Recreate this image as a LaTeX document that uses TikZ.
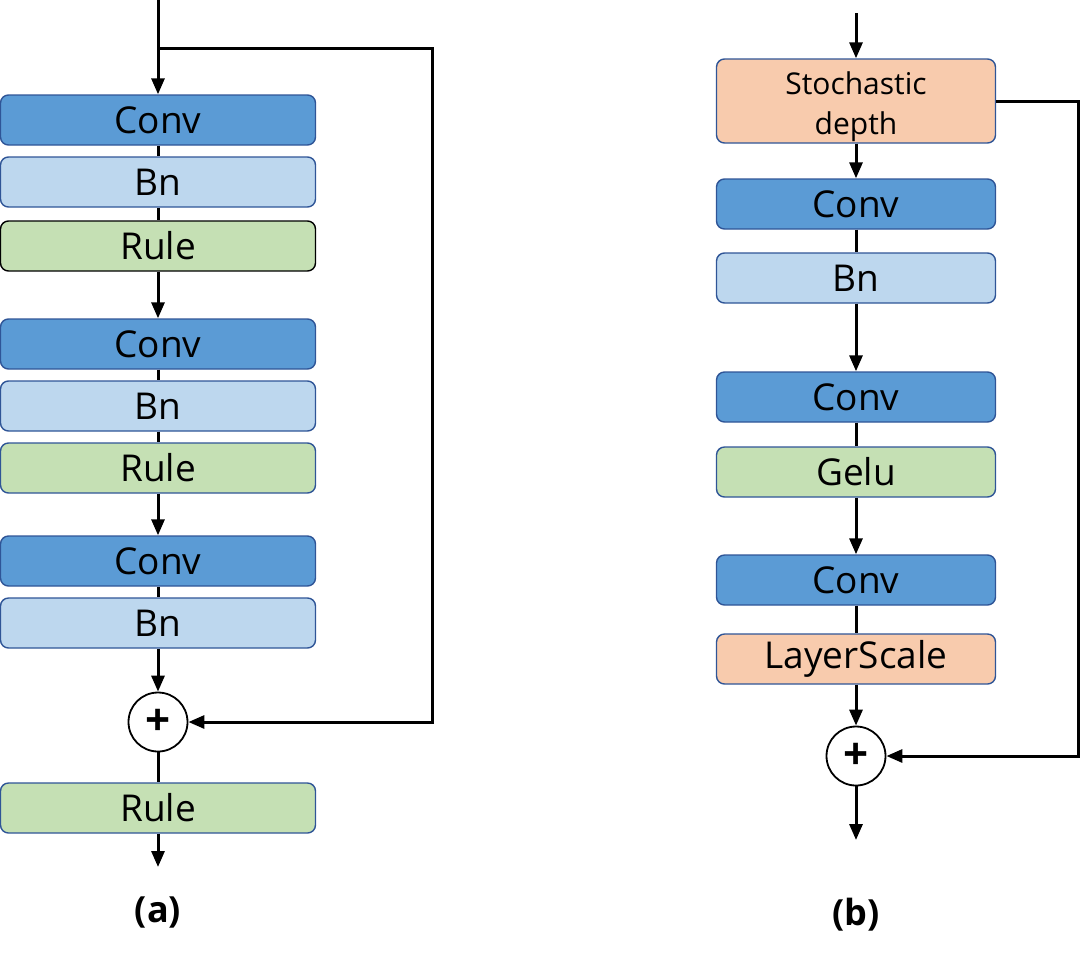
\documentclass[tikz,border=0pt]{standalone}
\usepackage{fontspec}
\setmainfont{Open Sans}
\usetikzlibrary{arrows.meta}
\definecolor{convblue}{RGB}{91,155,213}
\definecolor{bnblue}{RGB}{189,215,238}
\definecolor{rulegreen}{RGB}{197,224,180}
\definecolor{scaleorange}{RGB}{248,203,173}
\definecolor{boxedge}{RGB}{47,85,151}

\begin{document}
\begin{tikzpicture}[x=1pt, y=-1pt, >={Triangle[length=16pt, width=13pt]},
    blk/.style={draw=boxedge, line width=1.4pt, rounded corners=8pt,
        minimum width=315pt, minimum height=50pt, inner sep=0pt,
        font=\fontsize{37}{40}\selectfont},
    blkb/.style={blk, minimum width=279pt},
    conv/.style={fill=convblue},
    bn/.style={fill=bnblue},
    relu/.style={fill=rulegreen},
    scl/.style={fill=scaleorange},
    addnode/.style={circle, draw, line width=1.8pt, minimum size=59pt, inner sep=0pt,
        font=\fontsize{44}{44}\selectfont\bfseries},
    arr/.style={->, line width=3pt},
    lnk/.style={line width=3pt},
    caption/.style={font=\fontsize{36}{36}\selectfont\bfseries}]
    \useasboundingbox (0,0) rectangle (1081,962);

    % --- (a) ---
    \coordinate (ain) at (158,0);
    \node[blk, conv] (ac1) at (158,120) {Conv};
    \node[blk, bn] (ab1) at (158,182) {Bn};
    \node[blk, relu, draw=black] (ar1) at (158,246) {Rule};
    \node[blk, conv] (ac2) at (158,344) {Conv};
    \node[blk, bn] (ab2) at (158,406) {Bn};
    \node[blk, relu] (ar2) at (158,468) {Rule};
    \node[blk, conv] (ac3) at (158,561) {Conv};
    \node[blk, bn] (ab3) at (158,623) {Bn};
    \node[addnode] (aadd) at (158,722) {+};
    \node[blk, relu] (ar3) at (158,808) {Rule};
    \coordinate (aout) at (158,867);
    \node[caption] (alab) at (158,912) {(a)};

    \draw[arr] (ain) -- (ac1);
    \draw[lnk] (ac1) -- (ab1);
    \draw[lnk] (ab1) -- (ar1);
    \draw[arr] (ar1) -- (ac2);
    \draw[lnk] (ac2) -- (ab2);
    \draw[lnk] (ab2) -- (ar2);
    \draw[arr] (ar2) -- (ac3);
    \draw[lnk] (ac3) -- (ab3);
    \draw[arr] (ab3) -- (aadd);
    \draw[lnk] (aadd) -- (ar3);
    \draw[arr] (ar3) -- (aout);
    % skip
    \coordinate (askip) at (158,48);
    \draw[arr] (askip) -- (432,48) -- (432,722) -- (aadd);

    % --- (b) ---
    \coordinate (bin) at (856,13);
    \node[blkb, scl, minimum height=84pt] (bsd) at (856,101) {};
    \node[align=center, font=\fontsize{30}{40}\selectfont] (bsdtxt) at (856,107) {Stochastic\\depth};
    \node[blkb, conv] (bc1) at (856,204) {Conv};
    \node[blkb, bn] (bb1) at (856,278) {Bn};
    \node[blkb, conv] (bc2) at (856,397) {Conv};
    \node[blkb, relu] (bg1) at (856,472) {Gelu};
    \node[blkb, conv] (bc3) at (856,580) {Conv};
    \node[blkb, scl] (bls) at (856,659) {LayerScale};
    \node[addnode] (badd) at (856,756) {+};
    \coordinate (bout) at (856,840);
    \node[caption] (blab) at (856,915) {(b)};

    \draw[arr] (bin) -- (bsd);
    \draw[arr] (bsd) -- (bc1);
    \draw[lnk] (bc1) -- (bb1);
    \draw[arr] (bb1) -- (bc2);
    \draw[lnk] (bc2) -- (bg1);
    \draw[arr] (bg1) -- (bc3);
    \draw[lnk] (bc3) -- (bls);
    \draw[arr] (bls) -- (badd);
    \draw[arr] (badd) -- (bout);
    % skip
    \draw[arr] (bsd.east |- 0,101) -- (1078,101) -- (1078,756) -- (badd);
\end{tikzpicture}
\end{document}
